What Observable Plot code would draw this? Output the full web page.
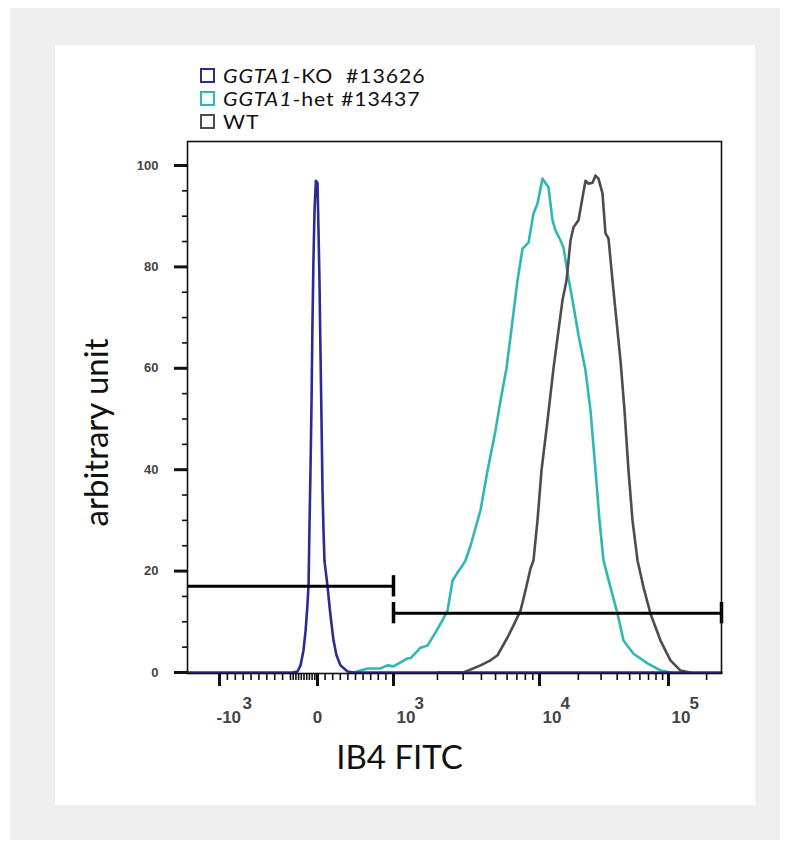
<!DOCTYPE html>
<html>
<head>
<meta charset="utf-8">
<script src="https://cdn.jsdelivr.net/npm/d3@7"></script>
<script src="https://cdn.jsdelivr.net/npm/@observablehq/plot@0.6"></script>
<style>
  html, body { margin: 0; padding: 0; background: #ffffff; }
  body { width: 789px; height: 848px; position: relative; overflow: hidden; }
  #bg { position: absolute; left: 10px; top: 8px; width: 770px; height: 832px; background: #efefef; }
  #panel { position: absolute; left: 55px; top: 45px; width: 700px; height: 760px; background: #ffffff; }
  #chart { position: absolute; left: 0; top: 0; }
  #legend { position: absolute; left: 145px; top: 19px; font-family: Lato, "Open Sans", sans-serif; font-size: 19px; letter-spacing: 0.8px; color: #111; }
  .row { display: flex; align-items: center; height: 23px; white-space: pre; }
  .sw { width: 11px; height: 11px; border: 2px solid; margin-right: 8px; box-sizing: content-box; flex: none; }
  .lab { display: inline-block; transform: scaleX(1.12); transform-origin: left center; line-height: 19px; }
</style>
</head>
<body>
<div id="bg"></div>
<div id="panel">
  <div id="chart"></div>
  <div id="legend"></div>
</div>
<script>
// ---------- data ----------
const seriesNames = ["GGTA1-KO  #13626", "GGTA1-het #13437", "WT"];
const seriesColors = ["#2b2b94", "#2fb6b6", "#4d4d4d"];

// GGTA1-KO (fluorescence value, % of max)
const koX = [-1400, -93, -74, -63, -52, -44, -37, -33, -30, -26, -22, -19, -15, -11, -6, 0, 13, 26, 39, 53, 66, 79, 92, 132, 171, 211, 250, 303, 395, 480, 262144];
const koY = [0, 0, 0.2, 1.4, 4.3, 8.3, 13.5, 17.5, 28, 39.8, 53.6, 67.5, 81.3, 91.1, 97, 96.6, 87.2, 77.3, 63.5, 49.7, 35.9, 28, 22, 17, 11.2, 6.3, 3.4, 1.4, 0.2, 0, 0];

// GGTA1-het
const hetX = [474, 658, 829, 921, 1000, 1247, 1307, 1531, 1710, 1940, 2166, 2344, 2536, 2744, 2970, 3113, 3368, 3944, 4404, 4995, 5405, 5943, 6534, 7069, 7648, 8409, 9097, 9690, 10550, 11740, 12610, 13310, 14550, 15350, 16780, 18030, 20060, 22730, 24850, 27180, 29180, 31340, 35510, 40240, 44790, 53540, 68740, 86700, 103600];
const hetY = [0, 0.8, 0.8, 1.4, 1.2, 2.8, 2.8, 4.9, 5.3, 7.9, 10.3, 12.2, 18.1, 19.7, 21.1, 22.1, 25, 32, 39.8, 47.7, 53.6, 60, 69.4, 77.3, 83.6, 84.8, 90.5, 92.5, 97.4, 95.7, 89.2, 87.2, 85.2, 83.8, 77.7, 73.4, 66.5, 59.6, 51.7, 39.8, 30, 22.1, 16.8, 11.6, 6.3, 3.7, 1.8, 0.4, 0];

// WT
const wtX = [2033, 3017, 3944, 4617, 5157, 6036, 6637, 7412, 8020, 8678, 9097, 9690, 10360, 11540, 12840, 14040, 15070, 16190, 17390, 18350, 20060, 21540, 22730, 23980, 25760, 27180, 28670, 30780, 32480, 34270, 36810, 39530, 42460, 45600, 48970, 52600, 57510, 64010, 72540, 86700, 103600, 123900, 148100];
const wtY = [0, 0, 1.4, 2.4, 3.4, 6.9, 9.3, 12.2, 16.2, 20.5, 22.1, 30, 39.8, 49.7, 60, 67.5, 73.4, 77.3, 85.2, 87.8, 89.2, 93.7, 97, 96.4, 96.6, 98, 97.4, 94.5, 86.6, 85.6, 77.3, 69.4, 61.5, 51.7, 39.8, 30, 22.1, 16.8, 11.6, 6.3, 2.4, 0.4, 0];

// gates
const gateStart = [-1400, 1000];
const gateEnd = [1000, 262144];
const gateLevel = [17, 11.7];

// axes
const yTicks = [0, 20, 40, 60, 80, 100];
const xLabelValues = [-1000, 0, 1000, 10000, 100000];
const xLabelBase = ["-10", "0", "10", "10", "10"];
const xLabelExp = ["3", "", "3", "4", "5"];
const xTitle = "IB4 FITC";
const yTitle = "arbitrary unit";

// ---------- biexponential-like display transform ----------
const T = v => v < 1000 ? v / 1000 : 1 + Math.log10(v / 1000);
const xAnchors = [-1400, -1000, -100, 0, 1000, 10000, 100000, 262144];
const xPixels = [132, 164, 235, 262, 338, 484, 613, 666];

const xMinor = [
  ...d3.range(-900, -100 + 1, 100),
  ...d3.range(-90, 0, 10),
  ...d3.range(100, 1000, 100),
  ...d3.range(2000, 10000, 1000),
  ...d3.range(20000, 100000, 10000),
  200000
];
const xMajor = [-1000, 0, 1000, 10000, 100000];
const yMinor = d3.range(0, 101, 5).filter(v => v % 20 !== 0);

const series = [
  {name: seriesNames[1], color: seriesColors[1], xs: hetX, ys: hetY},
  {name: seriesNames[2], color: seriesColors[2], xs: wtX, ys: wtY},
  {name: seriesNames[0], color: seriesColors[0], xs: koX, ys: koY}
];

const gates = gateStart.map((s, i) => ({x1: s, x2: gateEnd[i], y: gateLevel[i]}));
const caps = [
  {x: gateEnd[0], y: gateLevel[0]},
  {x: gateStart[1], y: gateLevel[1]},
  {x: gateEnd[1], y: gateLevel[1]}
];
const labels = xLabelValues.map((v, i) => ({v, base: xLabelBase[i], exp: xLabelExp[i]}));

const tickFont = "'Liberation Sans', Arial, sans-serif";
const titleFont = "Lato, 'Open Sans', sans-serif";
const lblStyle = {fontSize: 17, fontWeight: "bold", fontFamily: tickFont, fill: "#444", frameAnchor: "bottom"};

const marks = [];
series.forEach(s => {
  marks.push(Plot.line(s.xs.map((x, i) => ({x: T(x), y: s.ys[i]})), {
    x: "x", y: "y", stroke: s.color, strokeWidth: 2.6, curve: "linear"
  }));
});
marks.push(
  Plot.link(gates, {x1: d => T(d.x1), x2: d => T(d.x2), y1: "y", y2: "y", stroke: "#000", strokeWidth: 3}),
  Plot.ruleX(caps, {x: d => T(d.x), y1: d => d.y - 2.1, y2: d => d.y + 2.1, stroke: "#000", strokeWidth: 3.5}),
  Plot.frame({stroke: "#111", strokeWidth: 1.6}),
  Plot.axisY(yTicks, {anchor: "left", tickSize: 13, tickPadding: 16, strokeWidth: 3, stroke: "#111",
    fontSize: 13, fontWeight: "bold", fontFamily: tickFont, fill: "#444", label: null}),
  Plot.axisY(yMinor, {anchor: "left", tickSize: 5, strokeWidth: 1.6, stroke: "#111", tickFormat: () => "", label: null}),
  Plot.axisX(xMajor.map(T), {anchor: "bottom", tickSize: 13, strokeWidth: 3, stroke: "#111", tickFormat: () => "", label: null}),
  Plot.axisX(xMinor.map(T), {anchor: "bottom", tickSize: 7, strokeWidth: 1.6, stroke: "#111", tickFormat: () => "", label: null}),
  // tick labels (base and superscript exponent)
  Plot.text(labels.filter(d => d.v > 0), {...lblStyle, x: d => T(d.v), text: "base", dy: 49, dx: 3, textAnchor: "start"}),
  Plot.text(labels.filter(d => d.v > 0), {...lblStyle, x: d => T(d.v), text: "exp", dy: 35, dx: 21, textAnchor: "start"}),
  Plot.text(labels.filter(d => d.v < 0), {...lblStyle, x: d => T(d.v), text: "base", dy: 49, dx: -3, textAnchor: "start"}),
  Plot.text(labels.filter(d => d.v < 0), {...lblStyle, x: d => T(d.v), text: "exp", dy: 35, dx: 23, textAnchor: "start"}),
  Plot.text(labels.filter(d => d.v === 0), {...lblStyle, x: d => T(d.v), text: "base", dy: 49, dx: 0, textAnchor: "middle"}),
  // axis titles
  Plot.text([yTitle], {text: d => d, frameAnchor: "left", textAnchor: "middle", dx: -90, dy: 25, rotate: -90,
    fontSize: 33, fontFamily: titleFont, fill: "#111"}),
  Plot.text([xTitle], {text: d => d, frameAnchor: "bottom", textAnchor: "middle", dx: -55, dy: 95,
    fontSize: 33, fontFamily: titleFont, fill: "#111"})
);

const chart = Plot.plot({
  width: 700,
  height: 760,
  marginLeft: 132,
  marginRight: 34,
  marginTop: 96,
  marginBottom: 132,
  style: {background: "transparent", overflow: "visible"},
  x: {type: "linear", domain: xAnchors.map(T), range: xPixels},
  y: {domain: [-0.2, 104.73]},
  marks
});
document.getElementById("chart").appendChild(chart);

// legend
const legend = document.getElementById("legend");
seriesNames.forEach((name, i) => {
  const row = document.createElement("div");
  row.className = "row";
  const sw = document.createElement("span");
  sw.className = "sw";
  sw.style.borderColor = seriesColors[i];
  row.appendChild(sw);
  const label = document.createElement("span");
  label.className = "lab";
  const m = name.match(/^(GGTA1)(.*)$/);
  if (m) {
    const it = document.createElement("i");
    it.textContent = m[1];
    label.appendChild(it);
    label.appendChild(document.createTextNode(m[2]));
  } else {
    label.textContent = name;
  }
  row.appendChild(label);
  legend.appendChild(row);
});
</script>
</body>
</html>
